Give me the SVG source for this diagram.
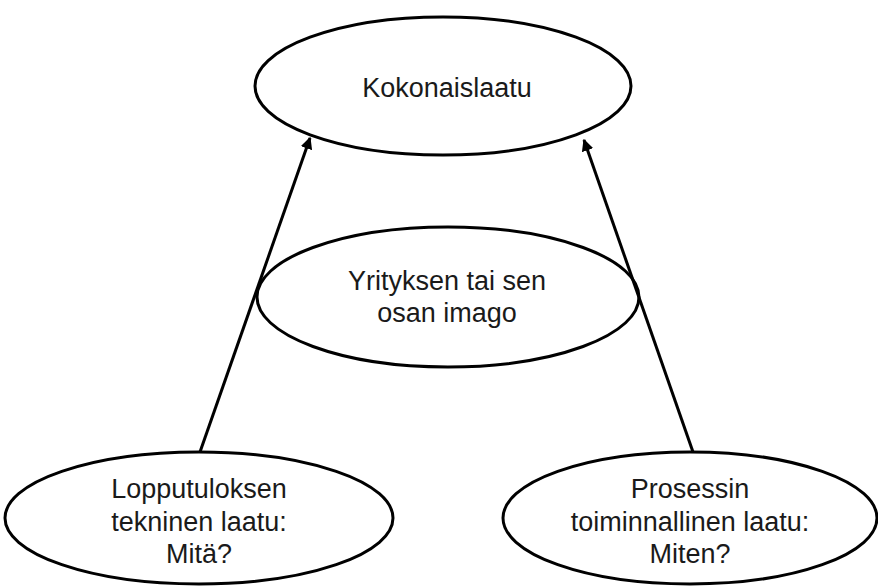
<svg xmlns="http://www.w3.org/2000/svg" width="878" height="588" viewBox="0 0 878 588">
  <style>
    .node ellipse { fill: #ffffff; stroke: #000000; stroke-width: 3; }
    .node text { font-family: "Liberation Sans", Arial, sans-serif; font-size: 27px; fill: #1a1a1a; text-anchor: middle; }
    .edge { stroke: #000000; stroke-width: 3; fill: none; marker-end: url(#arrow); }
  </style>
  <defs>
    <marker id="arrow" viewBox="0 0 10 10" refX="9" refY="5" markerWidth="4" markerHeight="4" orient="auto" markerUnits="strokeWidth">
      <path d="M0,0 L10,5 L0,10 Z" fill="#000000"/>
    </marker>
  </defs>
  <rect width="878" height="588" fill="#ffffff"/>

  <g id="node-kokonaislaatu" class="node">
    <ellipse cx="443" cy="86" rx="188" ry="69"/>
    <text x="447" y="97">Kokonaislaatu</text>
  </g>

  <g id="node-imago" class="node">
    <ellipse cx="448" cy="297" rx="191" ry="70"/>
    <text x="447" y="290">Yrityksen tai sen</text>
    <text x="447" y="322">osan imago</text>
  </g>

  <g id="node-lopputulos" class="node">
    <ellipse cx="199" cy="518" rx="194" ry="66"/>
    <text x="199" y="498">Lopputuloksen</text>
    <text x="199" y="531">tekninen laatu:</text>
    <text x="199" y="563">Mitä?</text>
  </g>

  <g id="node-prosessi" class="node">
    <ellipse cx="690" cy="518" rx="187" ry="66"/>
    <text x="690" y="498">Prosessin</text>
    <text x="690" y="531">toiminnallinen laatu:</text>
    <text x="690" y="563">Miten?</text>
  </g>

  <g id="connectors">
    <line class="edge" x1="200" y1="452" x2="310" y2="138"/>
    <line class="edge" x1="693" y1="452" x2="584" y2="140"/>
  </g>
</svg>
